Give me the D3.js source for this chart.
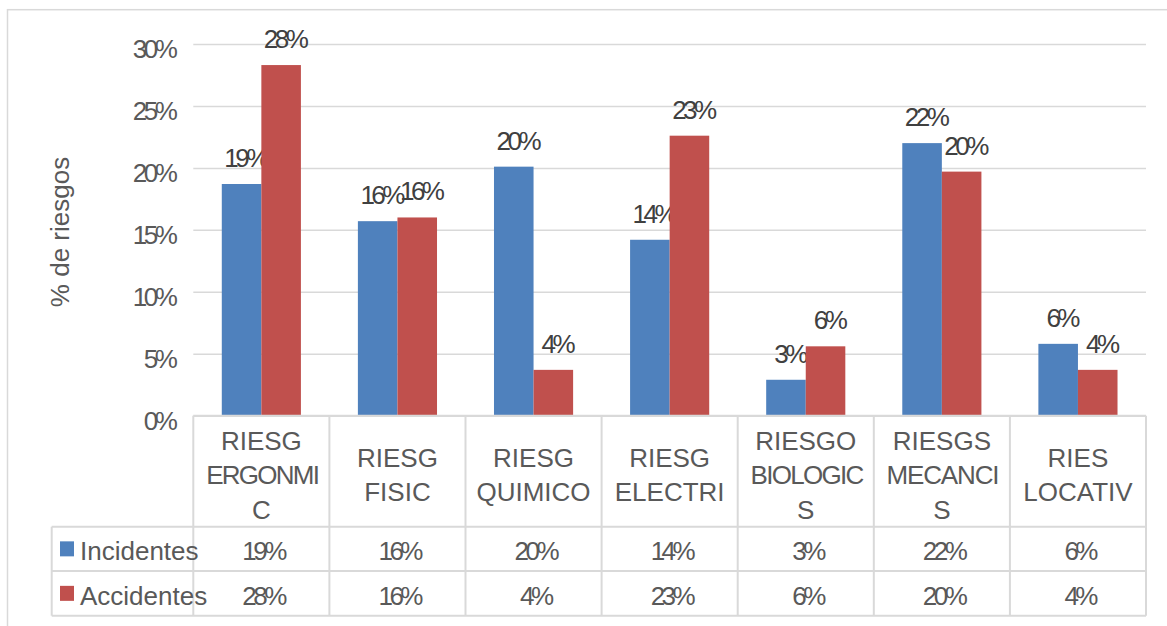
<!DOCTYPE html>
<html>
<head>
<meta charset="utf-8">
<script src="https://cdn.jsdelivr.net/npm/d3@7"></script>
<style>
  html, body { margin: 0; padding: 0; background: #fff; }
  svg { display: block; font-family: "Liberation Sans", Arial, sans-serif; }
</style>
</head>
<body>
<svg id="chart" width="1167" height="626"></svg>
<script>
// Risk categories, with the wrapped lines shown in the table header.
const categories = ["ERGONOMIC", "FISIC", "QUIMICO", "ELECTRI", "BIOLOGICOS", "MECANICOS", "LOCATIV"];
const categoryLines = [
  ["RIESG", "ERGONMI", "C"],
  ["RIESG", "FISIC"],
  ["RIESG", "QUIMICO"],
  ["RIESG", "ELECTRI"],
  ["RIESGO", "BIOLOGIC", "S"],
  ["RIESGS", "MECANCI", "S"],
  ["RIES", "LOCATIV"]
];
const seriesNames = ["Incidentes", "Accidentes"];
const incidentes = [0.187, 0.157, 0.201, 0.142, 0.029, 0.220, 0.058];
const accidentes = [0.283, 0.160, 0.037, 0.226, 0.056, 0.197, 0.037];
const yTicks = [0, 0.05, 0.10, 0.15, 0.20, 0.25, 0.30];
const yTitle = "% de riesgos";

const colors = ["#4f81bd", "#c0504d"];
const gridColor = "#d9d9d9";
const textColor = "#595959";
const labelColor = "#404040";
const fontSize = 26;
const pct = d3.format(".0%");

const svg = d3.select("#chart");

// Plot frame
const plotLeft = 193.3, plotRight = 1146, plotTop = 44, plotBottom = 415.7;
const tableLeft = 51.7;
const headerBottom = 526.7, row1Bottom = 571, row2Bottom = 615.7;

// Outer chart border
svg.append("rect")
  .attr("x", 7.5).attr("y", 9.7)
  .attr("width", 1170).attr("height", 700)
  .attr("fill", "none").attr("stroke", gridColor).attr("stroke-width", 1.5);

const x = d3.scaleBand().domain(categories).range([plotLeft, plotRight]);
const xInner = d3.scaleBand().domain(seriesNames)
  .range([0, x.bandwidth()]).paddingInner(0).paddingOuter(0.72);
const y = d3.scaleLinear().domain([0, 0.30]).range([plotBottom, plotTop]);

// Horizontal gridlines and y tick labels
const yAxis = d3.axisLeft(y).tickValues(yTicks).tickFormat(pct)
  .tickSize(-(plotRight - plotLeft)).tickPadding(18);
const gy = svg.append("g").attr("transform", `translate(${plotLeft},0)`).call(yAxis);
gy.select(".domain").remove();
gy.selectAll(".tick line").attr("stroke", gridColor).attr("stroke-width", 1.5);
gy.selectAll(".tick text")
  .attr("fill", textColor)
  .attr("font-size", fontSize)
  .attr("font-family", "Liberation Sans, Arial, sans-serif")
  .attr("letter-spacing", "-3.5px")
  .attr("dy", 13.5)
  .attr("x", -19);

// Y axis title
svg.append("text")
  .attr("transform", "translate(69,232) rotate(-90)")
  .attr("text-anchor", "middle")
  .attr("fill", textColor)
  .attr("font-size", fontSize)
  .text(yTitle);

// Bars
const series = [incidentes, accidentes];
const groups = svg.append("g").selectAll("g")
  .data(seriesNames)
  .join("g")
  .attr("fill", (d, i) => colors[i]);

groups.selectAll("rect")
  .data((s, si) => categories.map((c, ci) => ({ c, s, v: series[si][ci] })))
  .join("rect")
  .attr("x", d => x(d.c) + xInner(d.s))
  .attr("y", d => y(d.v))
  .attr("width", xInner.bandwidth())
  .attr("height", d => y(0) - y(d.v));

// Data labels above bars
groups.selectAll("text")
  .data((s, si) => categories.map((c, ci) => ({ c, s, v: series[si][ci] })))
  .join("text")
  .attr("x", d => x(d.c) + xInner(d.s) + xInner.bandwidth() / 2 + 3.5)
  .attr("y", d => y(d.v) - 17)
  .attr("text-anchor", "middle")
  .attr("fill", labelColor)
  .attr("font-size", fontSize)
  .attr("letter-spacing", "-3.5px")
  .text(d => pct(d.v));

// Data table
const table = svg.append("g")
  .attr("stroke", gridColor).attr("stroke-width", 2).attr("fill", "none");
// horizontal rules
table.append("line").attr("x1", plotLeft).attr("x2", plotRight).attr("y1", plotBottom).attr("y2", plotBottom);
[headerBottom, row1Bottom, row2Bottom].forEach(yy =>
  table.append("line").attr("x1", tableLeft).attr("x2", plotRight).attr("y1", yy).attr("y2", yy));
// vertical rules
table.append("line").attr("x1", tableLeft).attr("x2", tableLeft)
  .attr("y1", headerBottom).attr("y2", row2Bottom);
categories.concat([null]).forEach(c => {
  const xx = c === null ? plotRight : x(c);
  table.append("line").attr("x1", xx).attr("x2", xx).attr("y1", plotBottom).attr("y2", row2Bottom);
});

// Category header text, tightened slightly where a line is wider than its cell
const lineH = 34.3, capH = 18.6, headerMid = 475;
const header = svg.append("g")
  .attr("fill", textColor).attr("font-size", fontSize).attr("text-anchor", "middle");
categories.forEach((c, ci) => {
  const lines = categoryLines[ci];
  const n = lines.length;
  lines.forEach((ln, li) => {
    const capTop = headerMid - n * lineH / 2 + li * lineH + (lineH - capH) / 2;
    const t = header.append("text")
      .attr("x", x(c) + x.bandwidth() / 2)
      .attr("y", capTop + capH)
      .text(ln);
    const w = t.node().getComputedTextLength();
    if (w > 118) {
      const ls = -Math.min(2, (w - 112) / ln.length);
      t.attr("letter-spacing", ls + "px").attr("dx", -ls / 2);
    }
  });
});

// Table rows: legend keys, series names and values
const rowTops = [headerBottom, row1Bottom];
const rowBottoms = [row1Bottom, row2Bottom];
seriesNames.forEach((s, si) => {
  const mid = (rowTops[si] + rowBottoms[si]) / 2;
  svg.append("rect")
    .attr("x", 60).attr("y", mid - 7.5)
    .attr("width", 14).attr("height", 15)
    .attr("fill", colors[si]);
  svg.append("text")
    .attr("x", 80).attr("y", mid + 11.5)
    .attr("fill", textColor).attr("font-size", fontSize)
    .text(s);
  svg.append("g").selectAll("text")
    .data(categories.map((c, ci) => ({ c, v: series[si][ci] })))
    .join("text")
    .attr("x", d => x(d.c) + x.bandwidth() / 2 + 1.75)
    .attr("y", mid + 11.5)
    .attr("text-anchor", "middle")
    .attr("fill", textColor)
    .attr("font-size", fontSize)
    .attr("letter-spacing", "-3.5px")
    .text(d => pct(d.v));
});
</script>
</body>
</html>
